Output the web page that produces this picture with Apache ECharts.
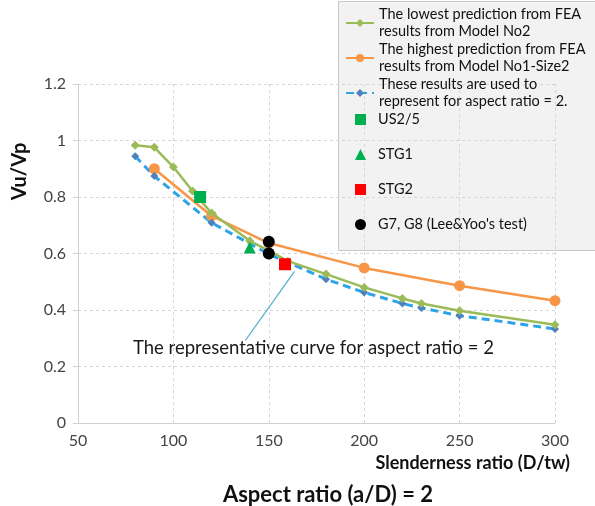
<!DOCTYPE html>
<html>
<head>
<meta charset="utf-8">
<script src="https://cdn.jsdelivr.net/npm/echarts@6/dist/echarts.min.js"></script>
<style>
  html, body { margin: 0; padding: 0; background: #fff; }
  #chart { width: 595px; height: 506px; }
</style>
</head>
<body>
<div id="chart"></div>
<script>
// Vu/Vp against slenderness ratio, aspect ratio 2
var lowestX = [80, 90, 100, 110, 120, 140, 150, 160, 180, 200, 220, 230, 250, 300];
var lowestY = [0.983, 0.976, 0.906, 0.821, 0.743, 0.645, 0.61, 0.573, 0.527, 0.480, 0.441, 0.423, 0.397, 0.348];

var highestX = [90, 120, 150, 200, 250, 300];
var highestY = [0.90, 0.733, 0.637, 0.549, 0.486, 0.433];

var reprX = [80, 90, 120, 150, 180, 200, 220, 230, 250, 300];
var reprY = [0.944, 0.874, 0.709, 0.598, 0.509, 0.462, 0.423, 0.407, 0.380, 0.333];

var us25 = [[114, 0.80]];
var stg1 = [[140, 0.621]];
var stg2 = [[158.5, 0.562]];
var g7g8 = [[150, 0.642], [150, 0.60]];

// arrow of the note, in data units
var arrowFrom = [137.7, 0.292];
var arrowTo = [163.5, 0.537];

var xTicks = [50, 100, 150, 200, 250, 300];
var yTicks = [0, 0.2, 0.4, 0.6, 0.8, 1, 1.2];

var names = [
    'The lowest prediction from FEA\nresults from Model No2',
    'The highest prediction from FEA\nresults from Model No1-Size2',
    'These results are used to\nrepresent for aspect ratio = 2.',
    'US2/5', 'STG1', 'STG2', "G7, G8 (Lee&Yoo's test)"
];

function pairs(xs, ys) {
    return xs.map(function (x, i) { return [x, ys[i]]; });
}

var font = 'Lato, "Liberation Sans", sans-serif';
var myChart = echarts.init(document.getElementById('chart'));

var legendText = {fontSize: 14.5, lineHeight: 17, color: '#111', fontFamily: font};

var option = {
    animation: false,
    textStyle: {fontFamily: font},
    grid: {left: 78, right: 40, top: 84, bottom: 83},
    title: {
        text: 'Aspect ratio (a/D) = 2',
        left: 323,
        textAlign: 'center',
        top: 479,
        textStyle: {fontSize: 22, fontWeight: 'bold', color: '#111', fontFamily: font}
    },
    graphic: [
        {
            type: 'rect', left: 338, top: 1, z: 0,
            shape: {width: 262, height: 249},
            style: {fill: '#f2f2f2', stroke: '#c8c8c8', lineWidth: 1}
        },
        {
            type: 'text', left: 133, top: 339,
            style: {
                text: 'The representative curve for aspect ratio = 2',
                fontSize: 18.5, fill: '#1a1a1a', fontFamily: font
            }
        }
    ],
    legend: [
        {
            data: names.slice(0, 3),
            orient: 'vertical', left: 345, top: 6, padding: 0,
            itemWidth: 28, itemHeight: 10, itemGap: 1,
            textStyle: legendText,
            z: 5
        },
        {
            data: names.slice(3),
            orient: 'vertical', left: 355, top: 111, padding: 0,
            itemWidth: 11, itemHeight: 11, itemGap: 18,
            textStyle: Object.assign({padding: [0, 0, 0, 7]}, legendText),
            z: 5
        }
    ],
    xAxis: {
        type: 'value', min: 50, max: 300, interval: 50,
        name: 'Slenderness ratio (D/tw)',
        nameLocation: 'end', nameGap: 15,
        nameTextStyle: {
            fontSize: 18, fontWeight: 'bold', color: '#111',
            align: 'right', verticalAlign: 'top', padding: [31, 0, 0, 0]
        },
        axisLine: {lineStyle: {color: '#d0d0d0', width: 1}},
        axisTick: {show: false},
        axisLabel: {
            fontSize: 16, color: '#444', margin: 10,
            formatter: function (v) { return xTicks.indexOf(v) >= 0 ? v : ''; }
        },
        splitLine: {show: true, lineStyle: {color: '#d6d6d6', type: [3, 3]}}
    },
    yAxis: {
        type: 'value', min: 0, max: 1.2, interval: 0.2,
        name: 'Vu/Vp',
        nameLocation: 'middle', nameGap: 48, nameRotate: 90,
        nameTextStyle: {
            fontSize: 20, fontWeight: 'bold', color: '#111',
            padding: [0, 0, 0, 164]
        },
        axisLine: {show: true, lineStyle: {color: '#d0d0d0', width: 1}},
        axisTick: {show: true, length: 5, lineStyle: {color: '#d0d0d0'}},
        axisLabel: {
            fontSize: 16, color: '#444', margin: 12,
            formatter: function (v) {
                var t = yTicks.filter(function (k) { return Math.abs(k - v) < 1e-6; });
                return t.length ? String(t[0]) : '';
            }
        },
        splitLine: {show: true, lineStyle: {color: '#d6d6d6', type: [3, 3]}}
    },
    series: [
        {
            name: names[0], type: 'line', data: pairs(lowestX, lowestY),
            symbol: 'diamond', symbolSize: 9,
            itemStyle: {color: '#9bbb59'},
            lineStyle: {color: '#9bbb59', width: 2.5},
            z: 3
        },
        {
            name: names[1], type: 'line', data: pairs(highestX, highestY),
            symbol: 'circle', symbolSize: 11,
            itemStyle: {color: '#f79646'},
            lineStyle: {color: '#f79646', width: 2.5},
            z: 2
        },
        {
            name: names[2], type: 'line', data: pairs(reprX, reprY),
            symbol: 'diamond', symbolSize: 8,
            itemStyle: {color: '#4f81bd'},
            lineStyle: {color: '#2ea3e6', width: 3, type: [8, 5]},
            z: 2,
            markLine: {
                silent: true,
                symbol: ['none', 'arrow'], symbolSize: [0, 7],
                label: {show: false},
                lineStyle: {color: '#4bacc6', width: 1.2, type: 'solid'},
                data: [[{coord: arrowFrom}, {coord: arrowTo}]]
            }
        },
        {
            name: names[3], type: 'scatter', data: us25,
            symbol: 'rect', symbolSize: 12,
            itemStyle: {color: '#00b050', opacity: 1}, z: 4
        },
        {
            name: names[4], type: 'scatter', data: stg1,
            symbol: 'triangle', symbolSize: 12,
            itemStyle: {color: '#00b050', opacity: 1}, z: 4
        },
        {
            name: names[5], type: 'scatter', data: stg2,
            symbol: 'rect', symbolSize: 12,
            itemStyle: {color: '#ff0000', opacity: 1}, z: 4
        },
        {
            name: names[6], type: 'scatter', data: g7g8,
            symbol: 'circle', symbolSize: 12,
            itemStyle: {color: '#000000', opacity: 1}, z: 4
        }
    ]
};

myChart.setOption(option);
</script>
</body>
</html>
